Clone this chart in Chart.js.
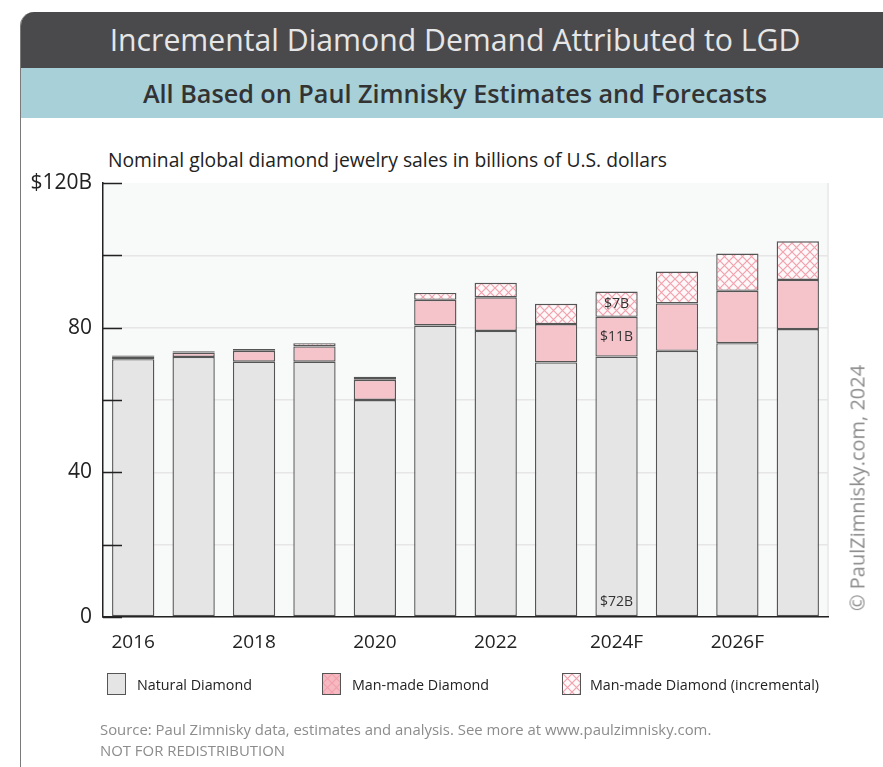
<!DOCTYPE html>
<html>
<head>
<meta charset="utf-8">
<script src="https://cdn.jsdelivr.net/npm/chart.js@4"></script>
<style>
  body { margin: 0; background: #fff; font-family: "Open Sans", "Noto Sans", sans-serif; }
  #page { position: relative; width: 883px; height: 767px; overflow: hidden; }
  #frame { position: absolute; left: 20px; top: 12px; width: 880px; height: 800px;
    border-left: 1.5px solid #7a7a7a; border-top-left-radius: 14px; border-top-right-radius: 14px; overflow: hidden; }
  #head1 { height: 56px; background: #4a4a4c; color: #e6e6e6; font-size: 30.2px; line-height: 56px;
    text-align: center; padding-right: 12px; }
  #head2 { height: 50px; background: #a7d0d8; color: #333; font-size: 25.2px; font-weight: 600;
    line-height: 50px; text-align: center; padding-right: 12px; }
  #unit { position: absolute; left: 108px; top: 146px; font-size: 19.3px; color: #222; }
  canvas { position: absolute; left: 0; top: 0; }
  .leg { position: absolute; top: 673px; font-size: 14.3px; color: #222; }
  .leg i { position: absolute; left: 0; top: 0; width: 17px; height: 20px; border: 1.2px solid #555; }
  .leg span { position: absolute; top: 2px; white-space: nowrap; }
  #source { position: absolute; left: 100px; top: 719px; font-size: 14.9px; color: #8c8c8c; line-height: 21px; }
  #copy { position: absolute; left: 857px; top: 488px; font-size: 20px; color: #8c8c8c; white-space: nowrap;
    transform: translate(-50%, -50%) rotate(-90deg); }
</style>
</head>
<body>
<div id="page">
  <div id="frame">
    <div id="head1">Incremental Diamond Demand Attributed to LGD</div>
    <div id="head2">All Based on Paul Zimnisky Estimates and Forecasts</div>
  </div>
  <div id="unit">Nominal global diamond jewelry sales in billions of U.S. dollars</div>
  <canvas id="chart" width="883" height="767"></canvas>
  <div class="leg" style="left:107px"><i id="lg0"></i><span style="left:30px">Natural Diamond</span></div>
  <div class="leg" style="left:322px"><i id="lg1"></i><span style="left:30px">Man-made Diamond</span></div>
  <div class="leg" style="left:562px"><i id="lg2"></i><span style="left:28px">Man-made Diamond (incremental)</span></div>
  <div id="source">Source: Paul Zimnisky data, estimates and analysis. See more at www.paulzimnisky.com.<br>NOT FOR REDISTRIBUTION</div>
  <div id="copy">© PaulZimnisky.com, 2024</div>
</div>
<script>
const years = ['2016', '2017', '2018', '2019', '2020', '2021', '2022', '2023', '2024F', '2025F', '2026F', '2027F'];
const natural = [71.3, 71.9, 70.6, 70.6, 60.0, 80.6, 79.1, 70.4, 72, 73.6, 75.7, 79.6];
const manMade = [0.8, 1.2, 3.0, 4.2, 5.6, 7.1, 9.3, 10.6, 11, 13.1, 14.5, 13.6];
const incremental = [0.2, 0.4, 0.5, 0.9, 0.8, 1.9, 4.0, 5.6, 7, 8.8, 10.3, 10.7];
const yLabels = { 0: '0', 40: '40', 80: '80', 120: '$120B' };
const annotateYear = '2024F';

const colors = { natural: '#e5e5e5', pink: '#f5c4cb', lattice: '#f3a2ad', edge: '#555' };

const makeLattice = (bg, line) => {
  const c = document.createElement('canvas');
  c.width = 9; c.height = 9;
  const g = c.getContext('2d');
  g.fillStyle = bg;
  g.fillRect(0, 0, 9, 9);
  g.strokeStyle = line;
  g.lineWidth = 1.2;
  g.beginPath();
  g.moveTo(0, 0); g.lineTo(9, 9);
  g.moveTo(9, 0); g.lineTo(0, 9);
  g.stroke();
  return c;
};

const ctx = document.querySelector('#chart').getContext('2d');
const latticeTile = makeLattice('#fdf8f9', colors.lattice);
const latticePattern = ctx.createPattern(latticeTile, 'repeat');

document.querySelector('#lg0').style.background = colors.natural;
document.querySelector('#lg1').style.background = `url(${makeLattice('#f7b9c1', '#f0a0ab').toDataURL()})`;
document.querySelector('#lg2').style.background = `url(${latticeTile.toDataURL()})`;

const plotBackground = {
  id: 'plotBackground',
  beforeDraw(chart) {
    const { ctx, chartArea: a } = chart;
    ctx.save();
    ctx.fillStyle = '#f8f9f9';
    ctx.fillRect(a.left, a.top, a.right - a.left, a.bottom - a.top);
    ctx.strokeStyle = '#ececec';
    ctx.lineWidth = 2;
    ctx.beginPath();
    ctx.moveTo(a.right, a.top);
    ctx.lineTo(a.right, a.bottom);
    ctx.stroke();
    ctx.restore();
  }
};

// short tick marks pointing into the plot
const innerTicks = {
  id: 'innerTicks',
  afterDraw(chart) {
    const { ctx, chartArea: a, scales: { y } } = chart;
    ctx.save();
    ctx.strokeStyle = '#222';
    ctx.lineWidth = 1.5;
    ctx.beginPath();
    y.ticks.forEach((t) => {
      const py = Math.round(y.getPixelForValue(t.value)) + 0.5;
      ctx.moveTo(a.left, py);
      ctx.lineTo(a.left + 19, py);
    });
    ctx.stroke();
    ctx.restore();
  }
};

const segmentLabels = {
  id: 'segmentLabels',
  afterDatasetsDraw(chart) {
    const i = years.indexOf(annotateYear);
    const { ctx } = chart;
    ctx.save();
    ctx.fillStyle = '#333';
    ctx.font = '14px "Open Sans"';
    ctx.textAlign = 'center';
    ctx.textBaseline = 'middle';
    const nat = chart.getDatasetMeta(0).data[i];
    ctx.fillText(`$${natural[i]}B`, nat.x, nat.base - 14);
    [1, 2].forEach((d) => {
      const bar = chart.getDatasetMeta(d).data[i];
      const v = chart.data.datasets[d].data[i];
      ctx.fillText(`$${v}B`, bar.x, (bar.y + bar.base) / 2);
    });
    ctx.restore();
  }
};

const barStyle = { borderColor: colors.edge, borderWidth: 1.4, borderSkipped: false, barPercentage: 0.7, categoryPercentage: 1 };

new Chart(ctx, {
  type: 'bar',
  data: {
    labels: years,
    datasets: [
      { label: 'Natural Diamond', data: natural, backgroundColor: colors.natural, ...barStyle },
      { label: 'Man-made Diamond', data: manMade, backgroundColor: colors.pink, ...barStyle },
      { label: 'Man-made Diamond (incremental)', data: incremental, backgroundColor: latticePattern, ...barStyle }
    ]
  },
  options: {
    responsive: false,
    animation: false,
    layout: { padding: { left: 10, right: 55, top: 183, bottom: 110 } },
    plugins: { legend: { display: false }, tooltip: { enabled: false } },
    scales: {
      x: {
        stacked: true,
        grid: { display: false, drawTicks: false },
        border: { color: '#222', width: 1.5 },
        ticks: {
          color: '#222',
          font: { family: 'Open Sans', size: 19 },
          padding: 14,
          maxRotation: 0,
          autoSkip: false,
          callback: (v, i) => (i % 2 === 0 ? years[i] : '')
        },
        afterFit: (s) => { s.height = 40; }
      },
      y: {
        stacked: true,
        min: 0,
        max: 120,
        grid: { color: (c) => (c.tick.value === 120 ? 'transparent' : '#e6e6e6'), lineWidth: 1.5, drawTicks: false },
        border: { color: '#222', width: 1.5 },
        ticks: {
          stepSize: 20,
          color: '#222',
          font: { family: 'Open Sans', size: 21 },
          padding: 11,
          callback: (v) => yLabels[v] ?? ''
        },
        afterFit: (s) => { s.width = 93; }
      }
    }
  },
  plugins: [plotBackground, innerTicks, segmentLabels]
});
</script>
</body>
</html>
